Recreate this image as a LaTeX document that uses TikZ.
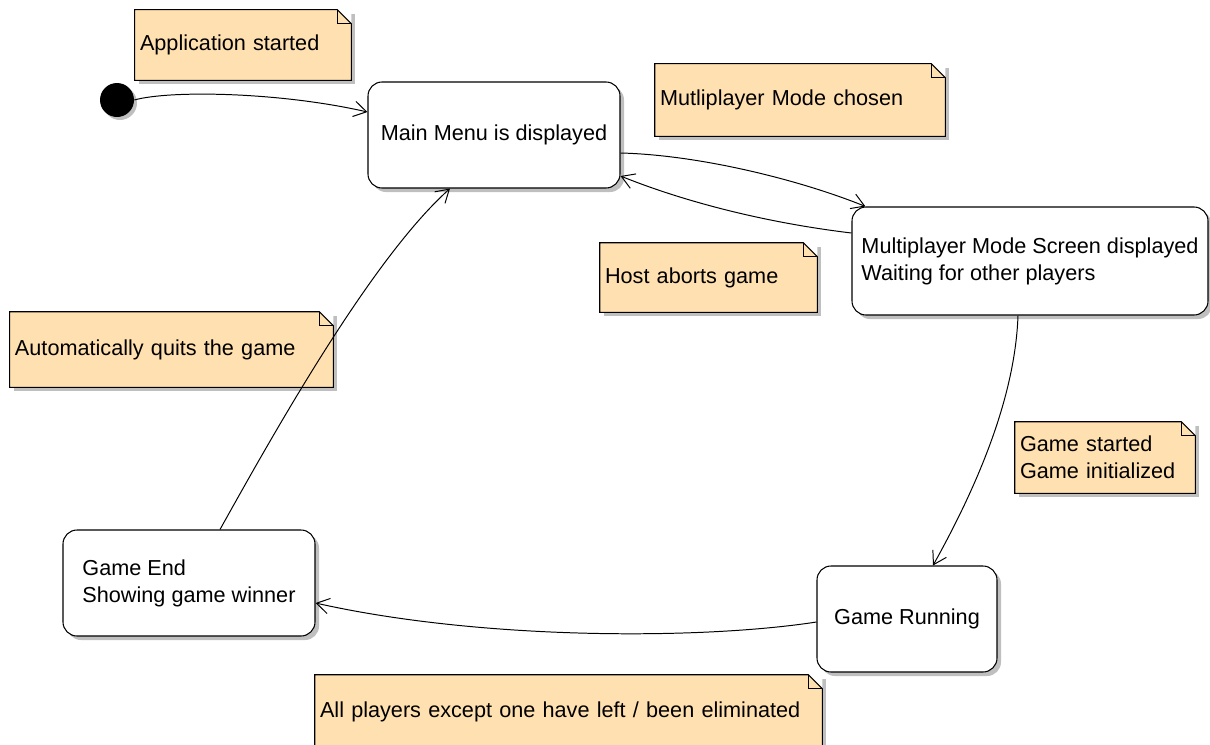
\documentclass[tikz,border=0pt]{standalone}
\usepackage{fontspec}
\setmainfont{Liberation Sans}
\usepackage{tikz}
\usetikzlibrary{shadows}
\usetikzlibrary{arrows.meta}
\usetikzlibrary{calc}
\definecolor{notefill}{RGB}{255,224,176}
\newlength{\upx}
\setlength{\upx}{0.025cm}
\newlength{\fold}
\setlength{\fold}{14\upx}
\tikzset{
    init/.style = {circle, fill=black, minimum size=34\upx, inner sep=0pt, drop shadow={shadow xshift=3\upx, shadow yshift=-3\upx, fill=black!25, opacity=1}},
    state/.style 2 args = {rectangle, rounded corners=14\upx, draw=black, line width=0.75pt, fill=white, align=left, minimum width=#1, minimum height=#2, drop shadow={shadow xshift=4\upx, shadow yshift=-4\upx, fill=black!25, opacity=1}},
    note/.style 2 args = {rectangle, fill=notefill, inner xsep=5\upx, inner ysep=0pt, text width=#1, minimum height=#2, align=left, drop shadow={shadow xshift=4\upx, shadow yshift=-4\upx, fill=black!25, opacity=1}},
    noteline/.style = {draw=black, line width=0.75pt},
    trans/.style = {-{Straight Barb[length=9pt,width=11pt]}, line width=0.7pt}
}
\begin{document}
\begin{tikzpicture}[x=0.025cm, y=-0.025cm, font=\fontsize{15.4}{19.2}\selectfont]
\useasboundingbox (0, 0) rectangle (1210, 744);
%
\node[init] at (117, 100) (start) {};
\node[state={252\upx}{106\upx}] at (494, 135) (mainmenu) {Main Menu is displayed};
\node[state={356\upx}{108\upx}] at (1030, 261) (mpscreen) {Multiplayer Mode Screen displayed\\Waiting for other players};
\node[state={252\upx}{106\upx}] at (189, 583) (gameend) {Game End\\Showing game winner};
\node[state={180\upx}{106\upx}] at (907, 619) (running) {Game Running};
%
\node[note={206\upx}{70\upx}] at (243, 45) (appstart) {Application started};
\node[note={280\upx}{72\upx}] at (800, 100) (mpchosen) {Mutliplayer Mode chosen};
\node[note={207\upx}{69\upx}] at (708.5, 277.5) (abort) {Host aborts game};
\node[note={313\upx}{75\upx}] at (171.5, 349.5) (quits) {Automatically quits the game};
\node[note={170\upx}{71\upx}] at (1105, 457.5) (started) {Game started\\Game initialized};
\node[note={497\upx}{73\upx}] at (568.5, 711.5) (leftgame) {All players except one have left / been eliminated};
%
\foreach \nt in {appstart, mpchosen, abort, quits, started, leftgame} {
  \fill[white] (\nt.north east) -- ++(-\fold, 0pt) -- ++(\fold, -\fold) -- cycle;
  \draw[noteline] ($(\nt.north east)+(-\fold, 0pt)$) -- (\nt.north west) -- (\nt.south west) -- (\nt.south east) -- ($(\nt.north east)+(0pt, -\fold)$) -- cycle;
  \draw[noteline] ($(\nt.north east)+(-\fold, 0pt)$) |- ($(\nt.north east)+(0pt, -\fold)$);
}
%
\draw[trans] (start.east) .. controls (170, 90) and (280, 92) .. ([yshift=23\upx]mainmenu.west);
\draw[trans] ([yshift=-18\upx]mainmenu.east) .. controls (700, 155) and (800, 180) .. ([xshift=14\upx]mpscreen.north west);
\draw[trans] ([yshift=28\upx]mpscreen.west) .. controls (760, 222) and (680, 200) .. ([yshift=-41\upx]mainmenu.east);
\draw[trans] ([xshift=-12\upx]mpscreen.south) .. controls (1015, 400) and (975, 490) .. ([xshift=26\upx]running.north);
\draw[trans] ([yshift=-3\upx]running.west) .. controls (700, 640) and (480, 640) .. ([yshift=-20\upx]gameend.east);
\draw[trans] ([xshift=31\upx]gameend.north) .. controls (270, 440) and (370, 260) .. ([xshift=-44\upx]mainmenu.south);

\end{tikzpicture}
\end{document}
